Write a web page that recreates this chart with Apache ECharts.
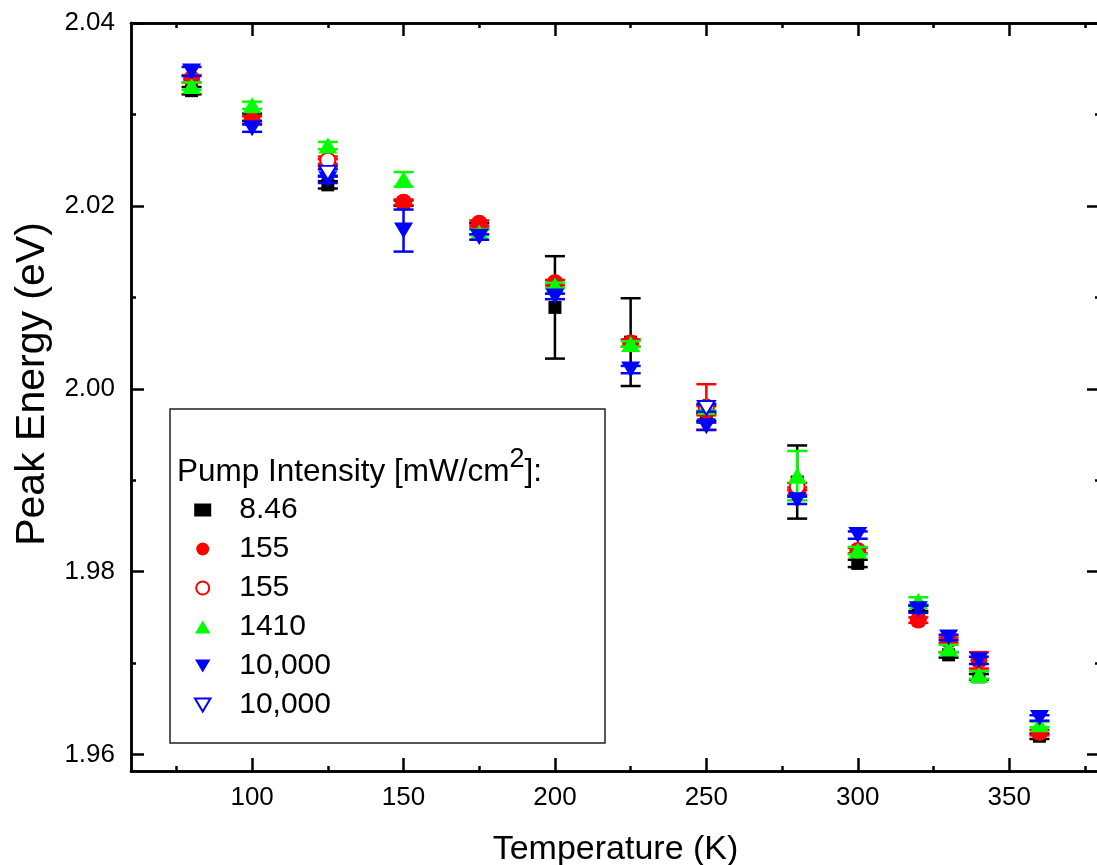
<!DOCTYPE html>
<html>
<head>
<meta charset="utf-8">
<script src="https://cdn.jsdelivr.net/npm/echarts@6/dist/echarts.min.js"></script>
<style>html,body{margin:0;padding:0;background:#fff}#c{width:1097px;height:865px}</style>
</head>
<body>
<div id="c"></div>
<script>
// ---- data ----
const temps = [80, 100, 125, 150, 175, 200, 225, 250, 280, 300, 320, 330, 340, 360];
const tempsOpen155 = [125, 250, 280];
const tempsOpen10k = [125, 250];
const xMajorTicks = [100, 150, 200, 250, 300, 350];
const xMinorTicks = [75, 125, 175, 225, 275, 325, 375];
const yMajorTicks = [1.96, 1.98, 2.00, 2.02, 2.04];
const yMinorTicks = [1.97, 1.99, 2.01, 2.03];

const legendNames = ['8.46', '155', '155 ', '1410', '10,000', '10,000 '];

const e846 = [2.0326, 2.0297, 2.0223, 2.0203, 2.0178, 2.0089, 2.0051, 1.9969, 1.9898, 1.9809, 1.9760, 1.9709, 1.9685, 1.9620];
const err846 = [0.0004, 0.0004, 0.0004, 0.0003, 0.0003, 0.0056, 0.0048, 0.0004, 0.0040, 0.0004, 0.0003, 0.0003, 0.0003, 0.0003];

const e155 = [2.0339, 2.0294, 2.0247, 2.0204, 2.0181, 2.0116, 2.0050, 1.9976, 1.9888, 1.9823, 1.9747, 1.9725, 1.9703, 1.9624];
const err155 = [0.0004, 0.0004, 0.0004, 0.0003, 0.0003, 0.0003, 0.0004, 0.0005, 0.0004, 0.0003, 0.0003, 0.0003, 0.0009, 0.0003];

const e155o = [2.0250, 1.9980, 1.9893];
const err155o = [0.0004, 0.0025, 0.0004];

const e1410 = [2.0331, 2.0310, 2.0266, 2.0229, 2.0171, 2.0113, 2.0049, 1.9980, 1.9905, 1.9823, 1.9768, 1.9716, 1.9687, 1.9633];
const err1410 = [0.0004, 0.0004, 0.0004, 0.0008, 0.0003, 0.0003, 0.0003, 0.0004, 0.0027, 0.0004, 0.0004, 0.0004, 0.0004, 0.0003];

const e10k = [2.0347, 2.0285, 2.0229, 2.0173, 2.0166, 2.0101, 2.0021, 1.9959, 1.9878, 1.9840, 1.9759, 1.9728, 1.9703, 1.9640];
const err10k = [0.0005, 0.0004, 0.0004, 0.0023, 0.0003, 0.0003, 0.0004, 0.0004, 0.0004, 0.0004, 0.0004, 0.0003, 0.0004, 0.0003];

const e10ko = [2.0236, 1.9979];
const err10ko = [0.0004, 0.0004];

// ---- styles ----
const FONT = "'Liberation Sans', Arial, sans-serif";
const DOWN_TRI = 'path://M0,0L19,0L9.5,16Z';
const UP_TRI = 'path://M0,16L9.5,0L19,16Z';

const defs = [
  {name: legendNames[0], xs: temps, vals: e846, errs: err846, color: '#000000', symbol: 'rect', size: 13, hollow: false},
  {name: legendNames[1], xs: temps, vals: e155, errs: err155, color: '#ff0000', symbol: 'circle', size: 17, hollow: false},
  {name: legendNames[2], xs: tempsOpen155, vals: e155o, errs: err155o, color: '#ff0000', symbol: 'circle', size: 15, hollow: true},
  {name: legendNames[3], xs: temps, vals: e1410, errs: err1410, color: '#00ff00', symbol: UP_TRI, size: [19, 16], hollow: false},
  {name: legendNames[4], xs: temps, vals: e10k, errs: err10k, color: '#0000ff', symbol: DOWN_TRI, size: [19, 16], hollow: false},
  {name: legendNames[5], xs: tempsOpen10k, vals: e10ko, errs: err10ko, color: '#0000ff', symbol: DOWN_TRI, size: [17, 14], hollow: true}
];

function errRenderer(color) {
  return function (params, api) {
    const x = api.value(0), y = api.value(1), e = api.value(2);
    const t = api.coord([x, y + e]);
    const b = api.coord([x, y - e]);
    const hw = 10;
    const st = {stroke: color, lineWidth: 2.5};
    return {
      type: 'group',
      children: [
        {type: 'line', shape: {x1: t[0], y1: t[1], x2: b[0], y2: b[1]}, style: st},
        {type: 'line', shape: {x1: t[0] - hw, y1: t[1], x2: t[0] + hw, y2: t[1]}, style: st},
        {type: 'line', shape: {x1: b[0] - hw, y1: b[1], x2: b[0] + hw, y2: b[1]}, style: st}
      ]
    };
  };
}

const series = [];
defs.forEach((d, i) => {
  series.push({
    type: 'custom',
    name: 'err' + i,
    xAxisIndex: 0, yAxisIndex: 0,
    z: 10 + i * 2,
    renderItem: errRenderer(d.color),
    encode: {x: 0, y: 1},
    data: d.xs.map((t, k) => [t, d.vals[k], d.errs[k]]),
    silent: true
  });
  series.push({
    type: 'scatter',
    name: d.name,
    xAxisIndex: 0, yAxisIndex: 0,
    z: 11 + i * 2,
    symbol: d.symbol,
    symbolSize: d.size,
    itemStyle: d.hollow
      ? {color: '#ffffff', borderColor: d.color, borderWidth: 2, opacity: 1}
      : {color: d.color, opacity: 1},
    data: d.xs.map((t, k) => [t, d.vals[k]])
  });
});

const axisLineStyle = {color: '#000', width: 2.5};
const tickStyle = {color: '#000', width: 2.5};

function xAx(pos, custom, len, labels, extra) {
  return Object.assign({
    type: 'value', position: pos, min: 60, max: 380,
    axisLine: {show: true, onZero: false, lineStyle: axisLineStyle},
    axisTick: {show: true, inside: true, length: len, lineStyle: tickStyle, customValues: custom},
    axisLabel: labels ? {show: true, customValues: custom, fontSize: 26, color: '#000', fontFamily: FONT, margin: 14} : {show: false},
    splitLine: {show: false}
  }, extra || {});
}
function yAx(pos, custom, len, labels, extra) {
  return Object.assign({
    type: 'value', position: pos, min: 1.9582, max: 2.04,
    axisLine: {show: true, onZero: false, lineStyle: axisLineStyle},
    axisTick: {show: true, inside: true, length: len, lineStyle: tickStyle, customValues: custom},
    axisLabel: labels ? {show: true, customValues: custom, fontSize: 26, color: '#000', fontFamily: FONT, margin: 16,
      formatter: v => v.toFixed(2)} : {show: false},
    splitLine: {show: false}
  }, extra || {});
}

const option = {
  animation: false,
  backgroundColor: '#ffffff',
  grid: {left: 131, right: -3, top: 23, bottom: 94, containLabel: false, outerBoundsMode: 'none'},
  xAxis: [
    xAx('bottom', xMajorTicks, 13, true, {
      name: 'Temperature (K)', nameLocation: 'middle', nameGap: 62,
      nameTextStyle: {fontSize: 34, color: '#000', fontFamily: FONT}
    }),
    xAx('bottom', xMinorTicks, 5, false),
    xAx('top', xMajorTicks, 13, false),
    xAx('top', xMinorTicks, 5, false)
  ],
  yAxis: [
    yAx('left', yMajorTicks, 13, true, {
      name: 'Peak Energy (eV)', nameLocation: 'middle', nameGap: 76, nameRotate: 90,
      nameTextStyle: {fontSize: 41, color: '#000', fontFamily: FONT, padding: [0, 0, 0, 26]}
    }),
    yAx('left', yMinorTicks, 5, false),
    yAx('right', yMajorTicks, 13, false),
    yAx('right', yMinorTicks, 5, false)
  ],
  legend: {
    show: true,
    orient: 'vertical',
    left: 189,
    top: 490,
    itemWidth: 17,
    itemHeight: 13,
    itemGap: 9,
    data: legendNames,
    textStyle: {fontSize: 30, color: '#000', fontFamily: FONT, lineHeight: 30, padding: [0, 0, 0, 23]},
    selectedMode: false
  },
  graphic: [
    {type: 'rect', x: 0, y: 0, z: 1,
      shape: {x: 170, y: 409, width: 435, height: 334}, style: {fill: 'none', stroke: '#222', lineWidth: 1.5}},
    {type: 'text', left: 177, top: 446, z: 5,
      style: {
        text: '{a|Pump Intensity [mW/cm}{s|2}{a|]:}',
        rich: {
          a: {fontSize: 31.5, fontFamily: FONT, fill: '#000', lineHeight: 36, verticalAlign: 'bottom'},
          s: {fontSize: 27, fontFamily: FONT, fill: '#000', lineHeight: 36, verticalAlign: 'bottom', padding: [0, 0, 15, 0]}
        }
      }}
  ],
  series: series
};

const chart = echarts.init(document.getElementById('c'), null, {renderer: 'canvas'});
chart.setOption(option);
</script>
</body>
</html>
